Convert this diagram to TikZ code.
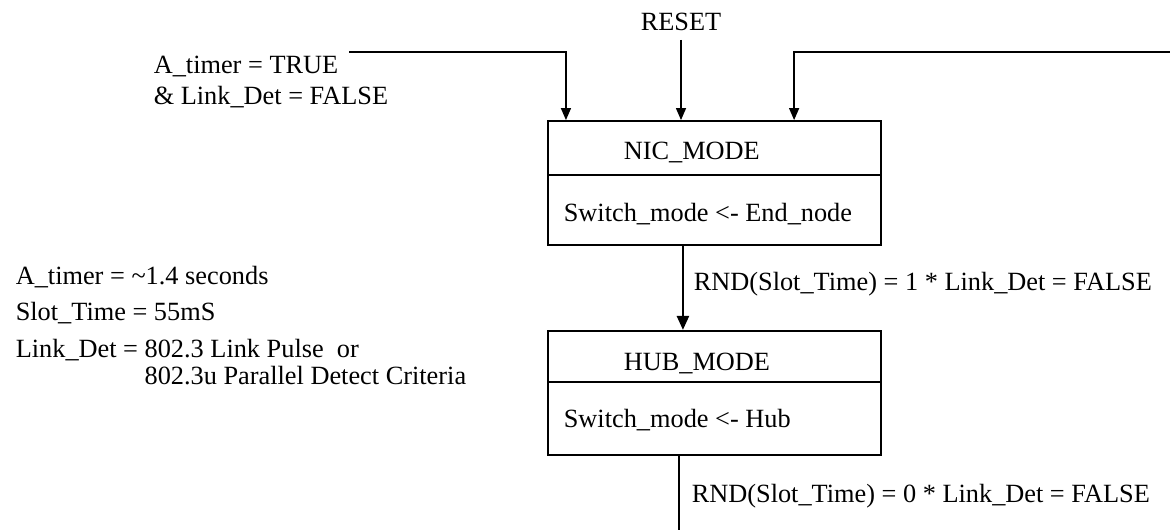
\documentclass[tikz,border=0pt]{standalone}
\usepackage{fontspec}
\setmainfont{Liberation Serif}
\usetikzlibrary{arrows.meta,positioning}
\tikzset{
    modebox/.style={
           rectangle,
           draw=black,
           line width=0.8pt,
           minimum width=126.5pt,
           minimum height=47pt,
           inner sep=0pt,
           },
    lbl/.style={
           anchor=base west,
           inner sep=0pt,
           },
}
\begin{document}
\begin{tikzpicture}[x=0.38pt,y=-0.38pt,->,>={Triangle[length=4.6pt,width=3.8pt]},line width=0.6pt,font=\fontsize{10}{12}\selectfont]
\useasboundingbox (0,0) rectangle (1170,530);
\node[modebox](nic) at (714.5,183) {};
\node[modebox,below=31.9pt of nic](hub) {};
\draw[-,line width=0.8pt] ([yshift=-20.9pt]nic.north west) -- ([yshift=-20.9pt]nic.north east);
\draw[-,line width=0.8pt] ([yshift=-19.8pt]hub.north west) -- ([yshift=-19.8pt]hub.north east);
\node[lbl](nictitle) at ([xshift=28.9pt,yshift=-14.8pt]nic.north west) {NIC\_MODE};
\node[lbl](nicact) at ([xshift=6.1pt,yshift=-38.6pt]nic.north west) {Switch\_mode <- End\_node};
\node[lbl](hubtitle) at ([xshift=28.9pt,yshift=-15.6pt]hub.north west) {HUB\_MODE};
\node[lbl](hubact) at ([xshift=6.1pt,yshift=-37.2pt]hub.north west) {Switch\_mode <- Hub};
\node[lbl](reset) at (640,31) {RESET};
\node[anchor=north west,align=left,inner sep=0pt](cond) at (153,55) {A\_timer = TRUE\\\& Link\_Det = FALSE};
\node[anchor=north west,align=left,inner sep=0pt,font=\fontsize{10}{14}\selectfont](defs) at (15,265)
     {A\_timer = \textasciitilde1.4 seconds\\Slot\_Time = 55mS\\Link\_Det = 802.3 Link Pulse\ \ or\\[-4pt]\phantom{Link\_Det = }802.3u Parallel Detect Criteria};
\node[lbl](slot1) at (693,290) {RND(Slot\_Time) = 1 * Link\_Det = FALSE};
\node[lbl](slot0) at (691,502) {RND(Slot\_Time) = 0 * Link\_Det = FALSE};
\coordinate (condend) at (349,52);
\coordinate (loopend) at (1170,52);
\coordinate (hubout) at (679,530);
\draw (condend) -| ([xshift=7.2pt]nic.north west);
\draw ([yshift=-3pt]reset.south) -- (reset.south |- nic.north);
\draw (loopend) -| ([xshift=-33.4pt]nic.north east);
\draw[line width=0.8pt,>={Triangle[length=5.3pt,width=4.6pt]}] ([xshift=-12pt]nic.south) -- ([xshift=-12pt]hub.north);
\draw[-,line width=0.8pt] (hubout |- hub.south) -- (hubout);
\end{tikzpicture}
\end{document}
